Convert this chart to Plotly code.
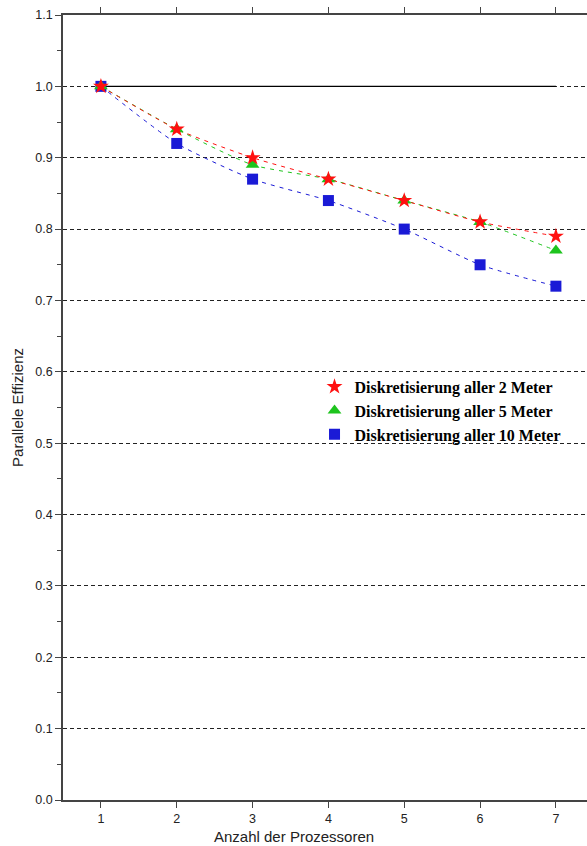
import plotly.graph_objects as go

processors = [1, 2, 3, 4, 5, 6, 7]
eff_2m = [1.00, 0.94, 0.90, 0.87, 0.84, 0.81, 0.79]
eff_5m = [1.00, 0.94, 0.89, 0.87, 0.84, 0.81, 0.77]
eff_10m = [1.00, 0.92, 0.87, 0.84, 0.80, 0.75, 0.72]
ideal = [1.0, 1.0, 1.0, 1.0, 1.0, 1.0, 1.0]

names = ["Diskretisierung aller 2 Meter", "Diskretisierung aller 5 Meter", "Diskretisierung aller 10 Meter"]
y_ticks = [0.0, 0.1, 0.2, 0.3, 0.4, 0.5, 0.6, 0.7, 0.8, 0.9, 1.0, 1.1]

fig = go.Figure()
fig.add_trace(go.Scatter(x=processors, y=ideal, mode="lines", line=dict(color="black", width=1.2),
                         showlegend=False, hoverinfo="skip"))

series = [
    (eff_10m, "#1a1ad6", "square", 11, names[2]),
    (eff_5m, "#1ec41e", "triangle-up", 12, names[1]),
    (eff_2m, "#ff1010", "star", 12, names[0]),
]
for vals, col, sym, sz, nm in series:
    fig.add_trace(go.Scatter(x=processors, y=vals, mode="lines",
                             line=dict(color=col, width=1, dash="4px,5px", shape="spline", smoothing=0.6),
                             showlegend=False, hoverinfo="skip"))
for vals, col, sym, sz, nm in series:
    fig.add_trace(go.Scatter(x=processors, y=vals, mode="markers", name=nm,
                             marker=dict(color=col, symbol=sym, size=sz, line=dict(width=0))))

fig.update_layout(
    width=587, height=846,
    margin=dict(l=63, r=0, t=15, b=46),
    plot_bgcolor="white", paper_bgcolor="white",
    font=dict(family="Liberation Sans, Arial", size=12.5, color="#222"),
    legend=dict(x=0.48, y=0.548, xanchor="left", yanchor="top", bgcolor="rgba(0,0,0,0)",
                font=dict(family="Liberation Serif, Times New Roman", size=16, color="black", weight="bold"),
                traceorder="reversed", itemsizing="trace", tracegroupgap=0),
    showlegend=True,
    annotations=[dict(text="Anzahl der Prozessoren", xref="paper", yref="paper", x=(293.5 - 63) / 524,
                      y=-36 / 785, xanchor="center", yanchor="middle", showarrow=False,
                      font=dict(size=15, color="#222"))],
)
fig.update_xaxes(range=[0.5, 7.41], tickvals=processors, ticks="outside", ticklen=6, tickwidth=1,
                 tickcolor="#444", showline=True, linecolor="#444", linewidth=1.5, mirror="ticks",
                 showgrid=False, zeroline=False, tickfont=dict(size=12.5))
fig.update_yaxes(range=[0, 1.1], tickvals=y_ticks, ticktext=[f"{v:.1f}" for v in y_ticks],
                 ticks="outside", ticklen=6, tickwidth=1, tickcolor="#444",
                 showline=True, linecolor="#444", linewidth=1.5,
                 showgrid=True, gridcolor="#222", gridwidth=1, griddash="4px,3px", zeroline=False,
                 minor=dict(tickvals=[0.05 + 0.1 * i for i in range(11)], ticks="outside", ticklen=4,
                            tickcolor="#444", showgrid=False),
                 title=dict(text="Parallele Effizienz", font=dict(size=15, color="#222"), standoff=8),
                 tickfont=dict(size=12.5))

fig.write_html("out.html")
